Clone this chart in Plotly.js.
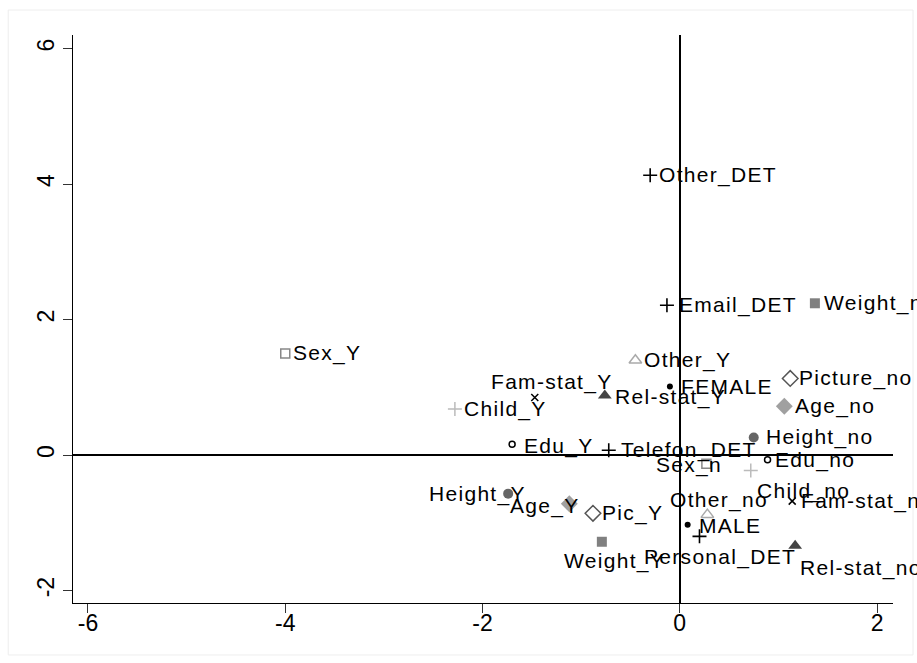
<!DOCTYPE html>
<html>
<head>
<meta charset="utf-8">
<script src="https://cdn.plot.ly/plotly-3.0.1.min.js"></script>
<style>
html,body{margin:0;padding:0;background:#fff;}
#chart{width:917px;height:663px;}
.annotation-text{letter-spacing:1.3px;}
</style>
</head>
<body>
<div id="chart"></div>
<script>
// ---- data ----
const labels = ['Other_DET','Email_DET','Weight_no','Sex_Y','Other_Y','FEMALE','Picture_no','Fam-stat_Y','Rel-stat_Y','Child_Y','Age_no','Height_no','Edu_Y','Telefon_DET','Sex_n','Edu_no','Child_no','Height_Y','Age_Y','Pic_Y','Other_no','Fam-stat_no','MALE','Personal_DET','Weight_Y','Rel-stat_no'];
const dim1 = [-0.30,-0.13,1.37,-4.00,-0.45,-0.10,1.12,-1.47,-0.76,-2.28,1.06,0.75,-1.70,-0.72,0.27,0.89,0.72,-1.74,-1.12,-0.88,0.28,1.14,0.08,0.20,-0.79,1.17];
const dim2 = [4.13,2.21,2.24,1.50,1.40,1.01,1.13,0.85,0.88,0.68,0.72,0.26,0.16,0.07,-0.13,-0.07,-0.23,-0.57,-0.72,-0.86,-0.88,-0.68,-1.03,-1.20,-1.28,-1.34];
const variable = ['DET','DET','Weight','Sex','Other','Gender','Picture','Famstat','Relstat','Child','Age','Height','Edu','DET','Sex','Edu','Child','Height','Age','Picture','Other','Famstat','Gender','DET','Weight','Relstat'];
const xTicks = [-6,-4,-2,0,2];
const yTicks = [-2,0,2,4,6];

// ---- styles ----
const markerStyle = {
  DET:     {symbol:'cross-thin-open', color:'#000000', size:10, line:{color:'#000000', width:1.6}},
  Weight:  {symbol:'square', color:'#808080', size:10, line:{width:0}},
  Sex:     {symbol:'square-open', color:'#888888', size:9, line:{color:'#888888', width:1.5}},
  Other:   {symbol:'triangle-up-open', color:'#aaaaaa', size:11, line:{color:'#aaaaaa', width:1.5}},
  Gender:  {symbol:'circle', color:'#000000', size:6, line:{width:0}},
  Picture: {symbol:'diamond-open', color:'#555555', size:12, line:{color:'#555555', width:1.5}},
  Famstat: {symbol:'x-thin-open', color:'#000000', size:7, line:{color:'#000000', width:1.5}},
  Relstat: {symbol:'triangle-up', color:'#444444', size:12, line:{width:0}},
  Child:   {symbol:'cross-thin-open', color:'#bbbbbb', size:10, line:{color:'#bbbbbb', width:1.5}},
  Age:     {symbol:'diamond', color:'#a0a0a0', size:13, line:{width:0}},
  Height:  {symbol:'circle', color:'#666666', size:10, line:{width:0}},
  Edu:     {symbol:'circle-open', color:'#000000', size:6, line:{color:'#000000', width:1.5}}
};
// label placement: [xanchor, xshift, yshift]
const defaultPlace = ['left', 8, 0];
const labelPlace = {
  'Email_DET':['left',11,0], 'Sex_Y':['left',7,0], 'FEMALE':['left',10,0], 'Age_no':['left',10,0],
  'Rel-stat_Y':['left',9,-2], 'Fam-stat_Y':['center',17,15], 'Edu_Y':['left',11,-2],
  'Telefon_DET':['left',11,0], 'Height_no':['left',11,0], 'Edu_no':['left',6,0],
  'Child_no':['left',5,-20], 'Sex_n':['right',17,-1], 'Height_Y':['right',19,0],
  'Age_Y':['right',12,-2], 'Other_no':['center',12,15], 'MALE':['left',10,-1],
  'Personal_DET':['center',21,-21], 'Weight_Y':['center',13,-19], 'Rel-stat_no':['left',4,-22]
};

const FONT = 'Liberation Sans, Arial, Helvetica, sans-serif';

const traces = labels.map((lab, i) => {
  const st = markerStyle[variable[i]];
  return {
    type:'scatter', mode:'markers', x:[dim1[i]], y:[dim2[i]], name:lab,
    showlegend:false, hoverinfo:'text', text:[lab],
    marker:{symbol:st.symbol, color:st.color, size:st.size, line:st.line}
  };
});

const annotations = labels.map((lab, i) => {
  const p = labelPlace[lab] || defaultPlace;
  return {
    x:dim1[i], y:dim2[i], xref:'x', yref:'y', text:lab, showarrow:false,
    xanchor:p[0], yanchor:'middle', xshift:p[1], yshift:p[2],
    font:{family:FONT, size:21, color:'#000000'}, borderpad:0
  };
});

const layout = {
  width:917, height:663,
  margin:{l:73, r:24, t:35, b:60},
  paper_bgcolor:'#ffffff', plot_bgcolor:'#ffffff',
  xaxis:{
    range:[-6.152, 2.162], tickmode:'array', tickvals:xTicks, ticktext:xTicks.map(String),
    ticks:'outside', ticklen:9, tickwidth:1, tickcolor:'#333333', ticklabelstandoff:-10,
    showline:true, linecolor:'#000000', linewidth:1.3, mirror:false,
    showgrid:false, zeroline:true, zerolinecolor:'#000000', zerolinewidth:2,
    tickfont:{family:FONT, size:23, color:'#000000'}, fixedrange:true
  },
  yaxis:{
    range:[-2.184, 6.2], tickmode:'array', tickvals:yTicks, ticktext:yTicks.map(String),
    ticks:'outside', ticklen:9, tickwidth:1, tickcolor:'#333333', tickangle:-90,
    showline:true, linecolor:'#000000', linewidth:1.3, mirror:false,
    showgrid:false, zeroline:true, zerolinecolor:'#000000', zerolinewidth:2,
    tickfont:{family:FONT, size:23, color:'#000000'}, fixedrange:true
  },
  annotations: annotations,
  shapes:[
    {type:'rect', xref:'paper', yref:'paper', x0:-0.079, x1:1.0244, y0:-0.0915, y1:1.044,
     line:{color:'#eeeeee', width:1}, fillcolor:'rgba(0,0,0,0)', layer:'below'}
  ]
};

Plotly.newPlot('chart', traces, layout, {displayModeBar:false, staticPlot:true});
</script>
</body>
</html>
